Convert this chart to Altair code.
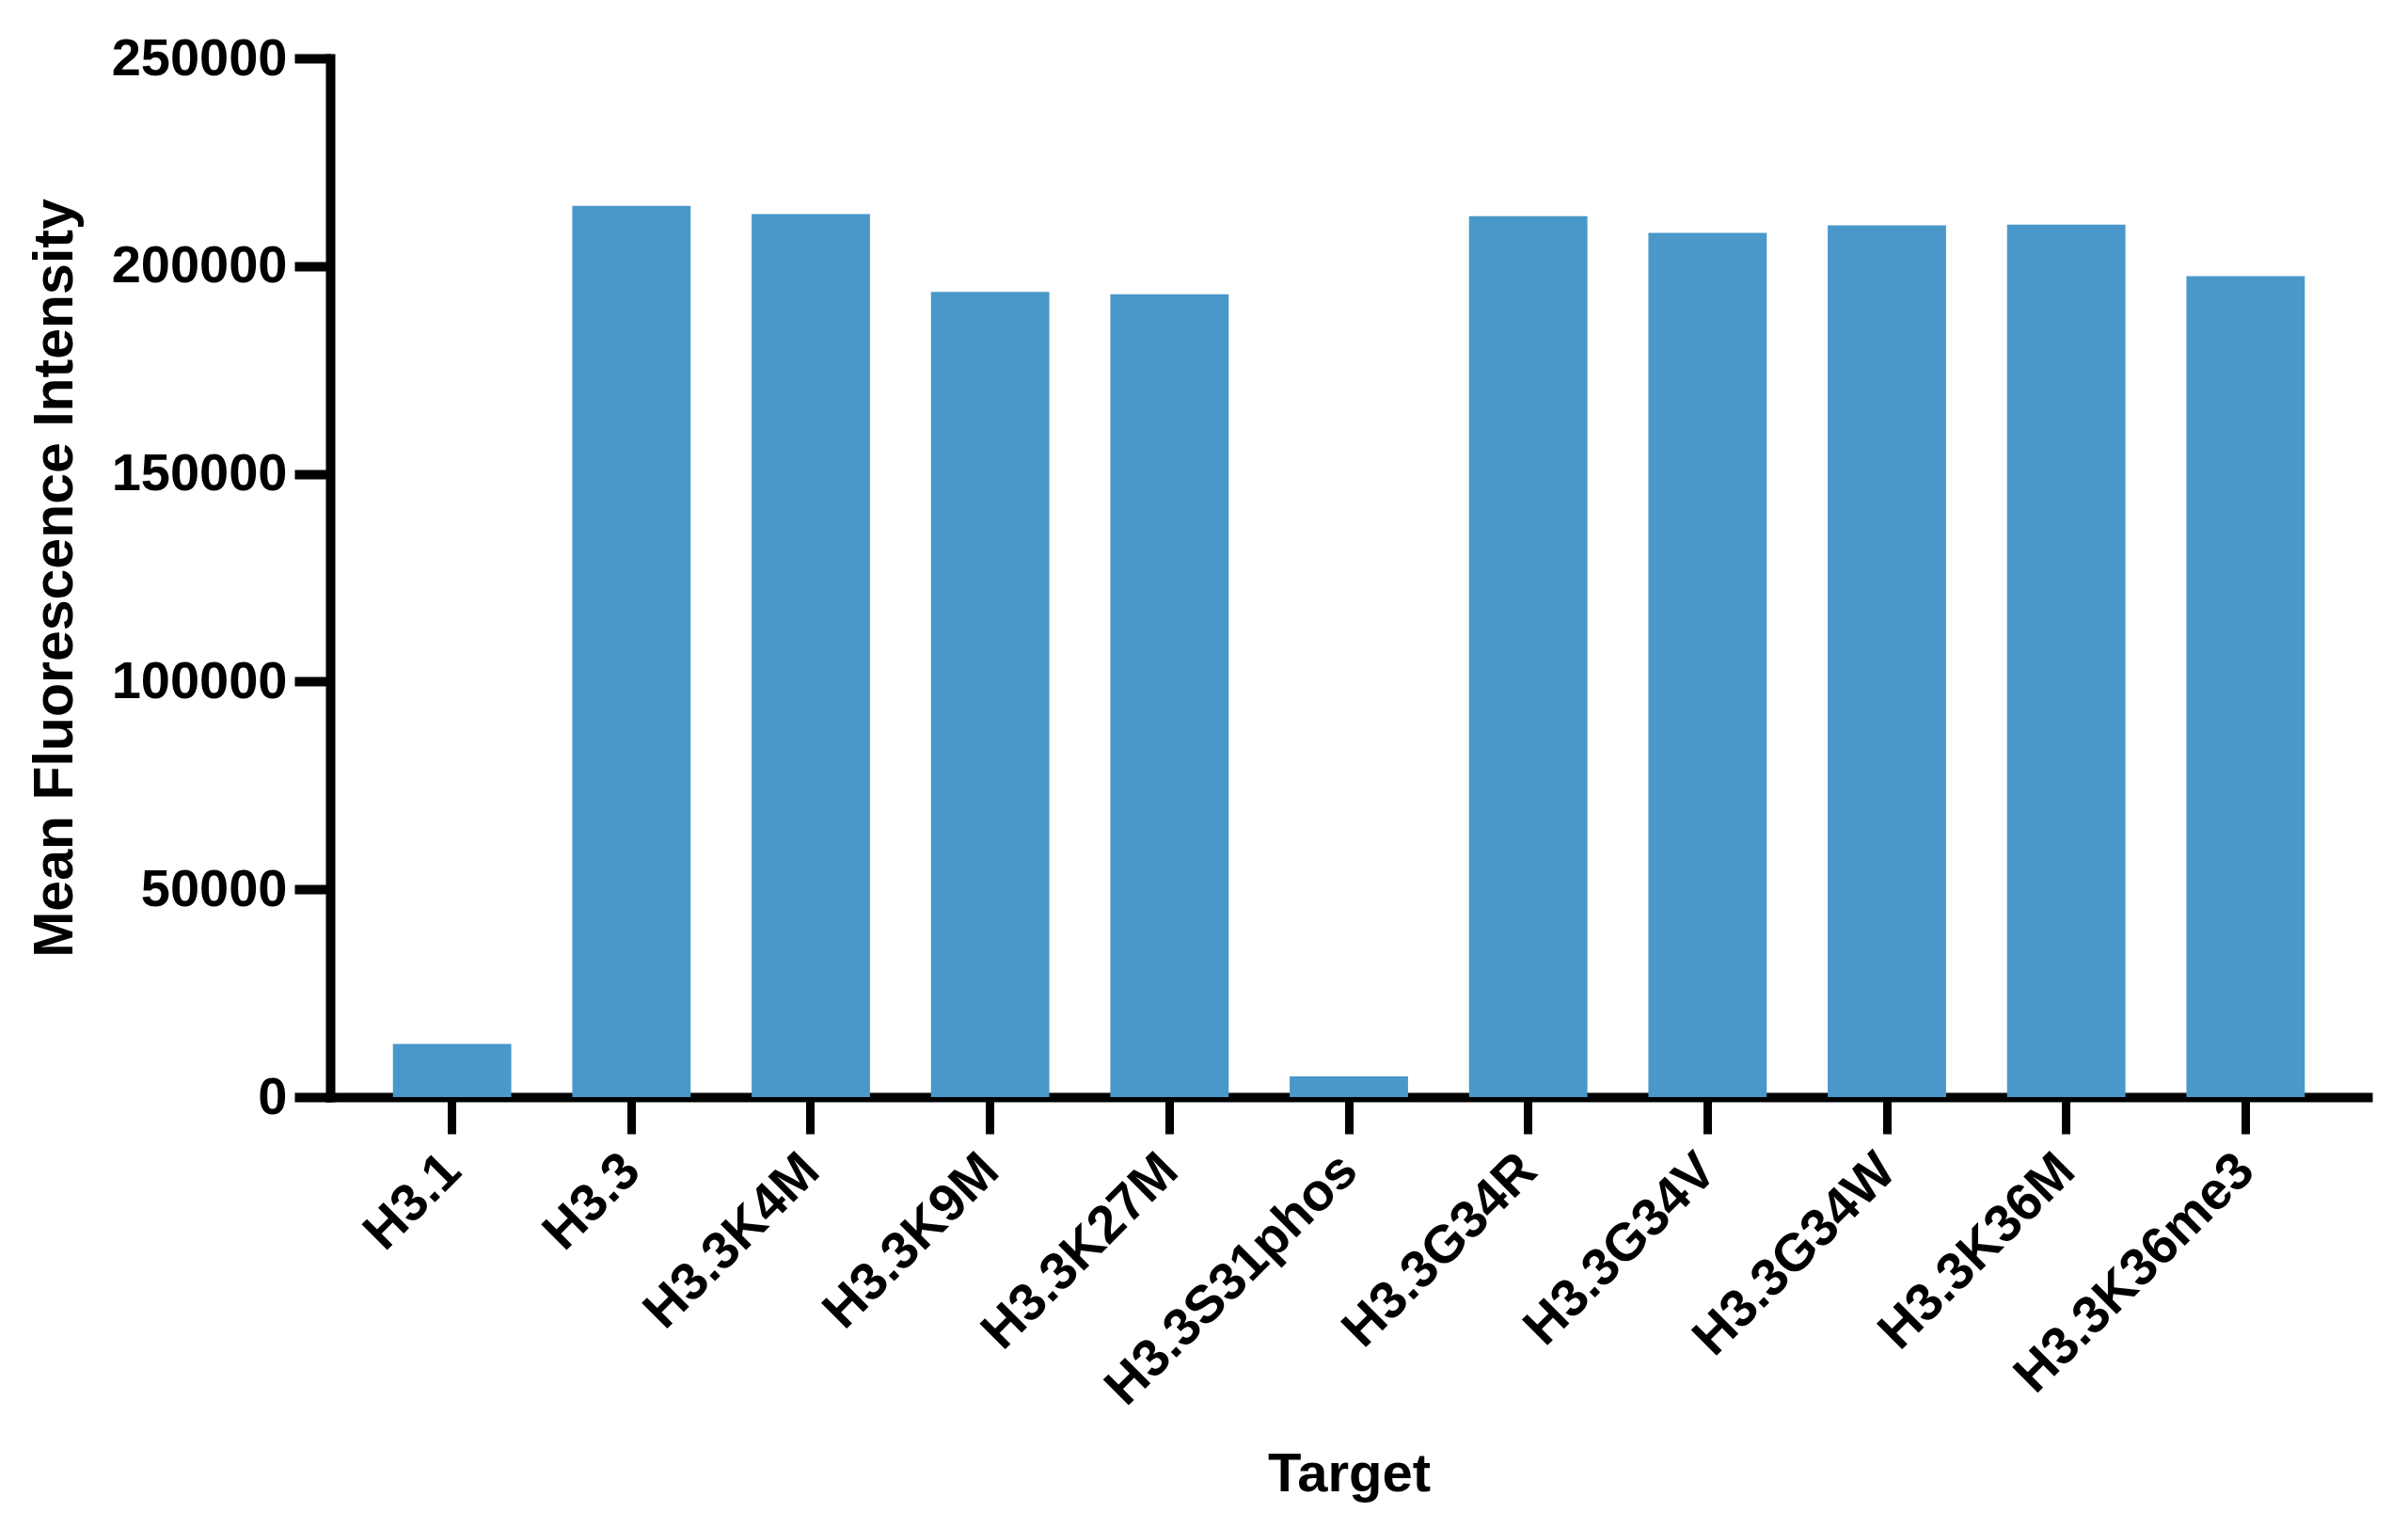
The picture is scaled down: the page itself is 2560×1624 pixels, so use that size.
import altair as alt
import pandas as pd

targets = ["H3.1", "H3.3", "H3.3K4M", "H3.3K9M", "H3.3K27M", "H3.3S31phos",
           "H3.3G34R", "H3.3G34V", "H3.3G34W", "H3.3K36M", "H3.3K36me3"]
mfi = [12800, 214500, 212500, 193800, 193200, 5000,
       212000, 208000, 209800, 210000, 197600]
y_ticks = [0, 50000, 100000, 150000, 200000, 250000]

df = pd.DataFrame({"Target": targets, "MFI": mfi})

FONT = "Liberation Sans"

chart = alt.Chart(df).mark_bar(color="#4998C9").encode(
    x=alt.X(
        "Target:N",
        sort=targets,
        scale=alt.Scale(paddingInner=0.34, paddingOuter=0.35),
        axis=alt.Axis(
            title="Target",
            labelAngle=315,
            labelAlign="right",
            labelBaseline="middle",
            labelPadding=30,
            labelLimit=0,
            labelFont=FONT,
            labelFontSize=56,
            labelFontWeight="bold",
            labelColor="black",
            tickSize=39,
            tickWidth=9,
            tickColor="black",
            domainWidth=10,
            domainColor="black",
            domainCap="square",
            titleFont=FONT,
            titleFontSize=58,
            titleFontWeight="bold",
            titleColor="black",
            titleX=1083,
            titleY=418,
            titleAlign="center",
            titleBaseline="alphabetic",
        ),
    ),
    y=alt.Y(
        "MFI:Q",
        scale=alt.Scale(domain=[0, 250000], nice=False),
        axis=alt.Axis(
            title="Mean Fluorescence Intensity",
            values=y_ticks,
            format="d",
            grid=False,
            labelPadding=8,
            labelLimit=0,
            labelFont=FONT,
            labelFontSize=56,
            labelFontWeight="bold",
            labelColor="black",
            tickSize=38,
            tickWidth=10,
            tickColor="black",
            domainWidth=10,
            domainColor="black",
            domainCap="square",
            titleFont=FONT,
            titleFontSize=59,
            titleFontWeight="bold",
            titleColor="black",
            titleAngle=270,
            titleX=-275,
            titleY=552,
            titleAlign="center",
            titleBaseline="alphabetic",
        ),
    ),
).properties(
    width=2166,
    height=1104,
    background="white",
    autosize=alt.AutoSizeParams(type="none"),
    padding={"left": 343, "top": 54, "right": 30, "bottom": 440},
).configure_view(stroke=None)

chart.save("out.html", embed_options={"renderer": "svg", "actions": False})
